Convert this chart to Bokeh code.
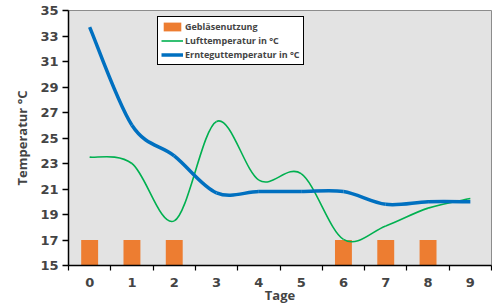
import numpy as np
from bokeh.plotting import figure
from bokeh.models import ColumnDataSource, FixedTicker, Legend, LegendItem
from bokeh.embed import file_html
from bokeh.resources import INLINE

days = list(range(10))
day_labels = ["0", "1", "2", "3", "4", "5", "6", "7", "8", "9"]
geblaese = [17, 17, 17, 0, 0, 0, 17, 17, 17, 0]
luft = [23.5, 23.0, 18.5, 26.3, 21.7, 22.2, 17.05, 18.1, 19.5, 20.25]
erntegut = [33.7, 26.0, 23.6, 20.7, 20.8, 20.8, 20.8, 19.8, 20.0, 20.0]


def smooth_segments(xs, ys):
    """Catmull-Rom style Bezier control points (like spreadsheet smoothed lines)."""
    xs = np.asarray(xs, float)
    ys = np.asarray(ys, float)
    n = len(xs)
    d = dict(x0=[], y0=[], x1=[], y1=[], cx0=[], cy0=[], cx1=[], cy1=[])
    for i in range(n - 1):
        i0 = max(i - 1, 0)
        i3 = min(i + 2, n - 1)
        d["x0"].append(xs[i]); d["y0"].append(ys[i])
        d["x1"].append(xs[i + 1]); d["y1"].append(ys[i + 1])
        d["cx0"].append(xs[i] + (xs[i + 1] - xs[i0]) / 6)
        d["cy0"].append(ys[i] + (ys[i + 1] - ys[i0]) / 6)
        d["cx1"].append(xs[i + 1] - (xs[i3] - xs[i]) / 6)
        d["cy1"].append(ys[i + 1] - (ys[i3] - ys[i]) / 6)
    return ColumnDataSource(d)


p = figure(frame_width=423, frame_height=255, output_backend="svg",
           toolbar_location=None, x_range=(-0.5, 9.5), y_range=(15, 35),
           min_border_left=68, min_border_top=10, min_border_right=1,
           min_border_bottom=30)

p.background_fill_color = "#e3e3e3"
p.border_fill_color = "white"
p.outline_line_color = "#8c8c8c"
p.outline_line_width = 1
p.xgrid.visible = False
p.ygrid.visible = False

orange = "#ed7d31"
green = "#00b050"
blue = "#0070c0"

bars = p.vbar(x=days, top=geblaese, bottom=0, width=0.4, fill_color=orange,
              line_color=None)
p.bezier(source=smooth_segments(days, luft), x0="x0", y0="y0", x1="x1", y1="y1",
         cx0="cx0", cy0="cy0", cx1="cx1", cy1="cy1", line_color=green, line_width=1.6)
p.bezier(source=smooth_segments(days, erntegut), x0="x0", y0="y0", x1="x1", y1="y1",
         cx0="cx0", cy0="cy0", cx1="cx1", cy1="cy1", line_color=blue, line_width=3.5)

# legend-only glyphs (no visible data)
lg_luft = p.line(x=[np.nan, np.nan], y=[np.nan, np.nan], line_color=green, line_width=1.6)
lg_ernte = p.line(x=[np.nan, np.nan], y=[np.nan, np.nan], line_color=blue, line_width=3.5)

legend = Legend(items=[
    LegendItem(label="Gebläsenutzung", renderers=[bars]),
    LegendItem(label="Lufttemperatur in °C", renderers=[lg_luft]),
    LegendItem(label="Ernteguttemperatur in °C", renderers=[lg_ernte]),
], location=(89, 200))
legend.background_fill_color = "white"
legend.background_fill_alpha = 1
legend.border_line_color = "black"
legend.border_line_width = 1
legend.border_line_alpha = 1
legend.label_text_font = "Open Sans"
legend.label_text_font_style = "bold"
legend.label_text_font_size = "9px"
legend.label_height = 11
legend.glyph_height = 11
legend.glyph_width = 22
legend.spacing = 1
legend.padding = 3
legend.margin = 0
legend.label_standoff = 2
p.add_layout(legend, "center")

# axes
p.yaxis.ticker = FixedTicker(ticks=list(range(15, 36, 2)))
p.yaxis.axis_label = "Temperatur °C"
p.yaxis.axis_label_text_font = "Open Sans"
p.yaxis.axis_label_text_font_style = "bold"
p.yaxis.axis_label_text_font_size = "13px"
p.yaxis.axis_label_standoff = 6
p.yaxis.major_label_text_font = "DejaVu Sans"
p.yaxis.major_label_text_font_style = "bold"
p.yaxis.major_label_text_font_size = "13px"
p.yaxis.major_tick_out = 6
p.yaxis.major_tick_in = 0
p.yaxis.minor_tick_out = 0
p.yaxis.minor_tick_in = 0
p.yaxis.axis_line_color = "black"
p.yaxis.axis_line_width = 1.5
p.yaxis.major_tick_line_width = 1.5
p.yaxis.major_label_standoff = 4

p.xaxis.ticker = FixedTicker(ticks=days, minor_ticks=[d - 0.5 for d in days] + [9.5])
p.xaxis.major_label_overrides = {d: lab for d, lab in zip(days, day_labels)}
p.xaxis.axis_label = "Tage"
p.xaxis.axis_label_text_font = "Open Sans"
p.xaxis.axis_label_text_font_style = "bold"
p.xaxis.axis_label_text_font_size = "13px"
p.xaxis.axis_label_standoff = -4
p.xaxis.major_label_text_font = "DejaVu Sans"
p.xaxis.major_label_text_font_style = "bold"
p.xaxis.major_label_text_font_size = "13px"
p.xaxis.major_tick_out = 0
p.xaxis.major_tick_in = 0
p.xaxis.minor_tick_out = 5
p.xaxis.minor_tick_in = 0
p.xaxis.minor_tick_line_color = "black"
p.xaxis.minor_tick_line_width = 1.2
p.xaxis.axis_line_color = "black"
p.xaxis.axis_line_width = 1.5
p.xaxis.major_label_standoff = 7

open("out.html", "w").write(file_html(p, INLINE))
